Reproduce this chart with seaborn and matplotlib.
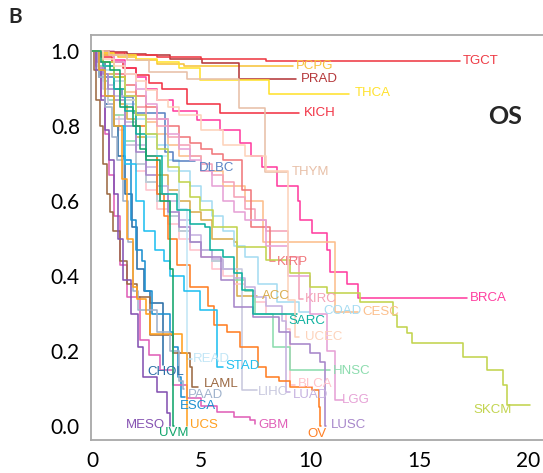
import matplotlib
matplotlib.use("Agg")
import matplotlib.pyplot as plt
import pandas as pd
import seaborn as sns

# ---------------- data (years, survival probability) ----------------
acc_t = [0, 0.3, 0.6, 1, 1.3, 1.6, 2, 2.5, 3, 3.5, 4, 4.5, 5, 5.5, 6.5, 6.65, 7.55]
acc_s = [1, 0.97, 0.94, 0.9, 0.86, 0.82, 0.77, 0.72, 0.67, 0.63, 0.6, 0.57, 0.55, 0.5, 0.49, 0.347, 0.347]
blca_t = [0, 0.25, 0.5, 0.75, 1, 1.25, 1.5, 2, 2.5, 3, 3.5, 4, 4.5, 5, 5.5, 6, 6.5, 7, 7.5, 8, 8.9, 9.1, 9.3]
blca_s = [1, 0.97, 0.93, 0.88, 0.83, 0.79, 0.75, 0.68, 0.63, 0.58, 0.54, 0.5, 0.47, 0.45, 0.42, 0.4, 0.38, 0.36, 0.33, 0.3, 0.26, 0.11, 0.11]
brca_t = [0, 0.5, 1, 1.5, 2, 2.5, 3, 3.7, 4.8, 5.87, 6.8, 7.3, 7.8, 8.5, 9.45, 9.55, 10.1, 10.8, 10.9, 11.7, 12.2, 17.2]
brca_s = [1, 0.99, 0.975, 0.955, 0.93, 0.9, 0.87, 0.84, 0.816, 0.79, 0.755, 0.72, 0.69, 0.64, 0.6, 0.55, 0.515, 0.47, 0.41, 0.38, 0.341, 0.341]
cesc_t = [0, 0.5, 1, 1.5, 2, 2.5, 3, 3.5, 4, 5, 6, 7, 7.85, 11.15, 12.2]
cesc_s = [1, 0.97, 0.93, 0.89, 0.85, 0.81, 0.78, 0.75, 0.72, 0.68, 0.64, 0.6, 0.49, 0.304, 0.304]
chol_t = [0, 0.3, 0.6, 1.0, 1.2, 1.5, 1.83, 2.06, 2.4, 2.66, 3.26, 3.28]
chol_s = [1, 0.93, 0.86, 0.8, 0.72, 0.62, 0.53, 0.42, 0.36, 0.328, 0.163, 0.163]
coad_t = [0, 0.5, 1, 1.5, 2, 2.5, 3, 3.5, 4, 4.5, 5, 5.5, 6, 6.5, 7, 7.6, 8.5, 9.5, 10.0]
coad_s = [1, 0.95, 0.9, 0.86, 0.82, 0.78, 0.75, 0.71, 0.68, 0.64, 0.6, 0.56, 0.52, 0.48, 0.45, 0.38, 0.33, 0.304, 0.304]
dlbc_t = [0, 0.3, 0.6, 1.0, 1.38, 1.9, 3.35, 3.7, 4.72]
dlbc_s = [1, 0.97, 0.93, 0.9, 0.877, 0.835, 0.73, 0.707, 0.707]
esca_t = [0, 0.3, 0.6, 1.0, 1.45, 1.8, 2.0, 2.3, 2.43, 2.75, 3.58, 3.72, 3.94, 4.1, 4.25]
esca_s = [1, 0.94, 0.88, 0.8, 0.71, 0.55, 0.47, 0.44, 0.36, 0.3, 0.25, 0.21, 0.13, 0.077, 0.077]
gbm_t = [0, 0.2, 0.4, 0.6, 0.8, 1.0, 1.28, 1.6, 2.2, 2.6, 3.1, 3.7, 4.36, 5.0, 5.73, 6.5, 7.25, 7.5]
gbm_s = [1, 0.96, 0.88, 0.78, 0.67, 0.56, 0.43, 0.344, 0.23, 0.19, 0.15, 0.11, 0.075, 0.055, 0.037, 0.025, 0.016, 0.005]
hnsc_t = [0, 0.25, 0.5, 0.75, 1, 1.5, 2, 2.5, 3, 3.6, 4, 4.5, 5, 5.5, 6, 6.5, 7, 7.5, 8.3, 9.1, 10.9]
hnsc_s = [1, 0.96, 0.92, 0.87, 0.83, 0.76, 0.7, 0.65, 0.6, 0.56, 0.52, 0.49, 0.47, 0.44, 0.42, 0.39, 0.36, 0.3, 0.21, 0.15, 0.15]
kich_t = [0, 0.4, 0.9, 1.4, 2.0, 2.6, 3.2, 4.36, 5.87, 9.5]
kich_s = [1, 0.985, 0.97, 0.955, 0.935, 0.915, 0.9, 0.86, 0.835, 0.835]
kirc_t = [0, 0.5, 1, 1.5, 2, 2.5, 3, 3.5, 4, 4.5, 5, 5.5, 6, 6.5, 7, 7.5, 8, 9, 9.5, 9.7]
kirc_s = [1, 0.96, 0.92, 0.88, 0.85, 0.82, 0.8, 0.77, 0.75, 0.72, 0.7, 0.67, 0.65, 0.61, 0.58, 0.55, 0.52, 0.45, 0.34, 0.34]
kirp_t = [0, 0.5, 1, 1.5, 2, 2.5, 3, 3.5, 4, 4.5, 5, 5.5, 6, 6.9, 7.3, 8.15, 8.4]
kirp_s = [1, 0.97, 0.94, 0.91, 0.88, 0.85, 0.82, 0.8, 0.77, 0.755, 0.74, 0.725, 0.71, 0.63, 0.53, 0.44, 0.44]
laml_t = [0, 0.1, 0.2, 0.35, 0.5, 0.7, 0.83, 0.97, 1.3, 1.6, 2.06, 2.66, 3.72, 4.5, 4.6, 4.85]
laml_s = [1, 0.95, 0.87, 0.8, 0.7, 0.62, 0.57, 0.52, 0.44, 0.38, 0.344, 0.243, 0.195, 0.157, 0.104, 0.104]
lgg_t = [0, 1, 1.5, 2, 2.5, 3, 3.5, 4, 4.5, 5, 5.5, 6, 6.5, 7, 8, 9, 10, 10.8, 11.15, 11.5]
lgg_s = [1, 0.97, 0.94, 0.9, 0.86, 0.82, 0.78, 0.74, 0.71, 0.68, 0.64, 0.6, 0.57, 0.55, 0.48, 0.4, 0.3, 0.2, 0.07, 0.07]
lihc_t = [0, 0.25, 0.5, 0.75, 1, 1.5, 2, 2.5, 3, 3.5, 4, 4.5, 5, 5.5, 6, 6.9, 7.55]
lihc_s = [1, 0.95, 0.9, 0.86, 0.82, 0.75, 0.7, 0.65, 0.6, 0.56, 0.52, 0.49, 0.47, 0.44, 0.42, 0.096, 0.096]
luad_t = [0, 0.25, 0.5, 0.75, 1, 1.5, 2, 2.5, 3, 3.5, 4, 4.5, 5, 5.5, 6, 6.5, 7, 7.5, 8, 8.7, 8.9, 9.1]
luad_s = [1, 0.97, 0.94, 0.91, 0.88, 0.81, 0.75, 0.69, 0.64, 0.6, 0.55, 0.51, 0.47, 0.445, 0.42, 0.395, 0.37, 0.345, 0.32, 0.28, 0.09, 0.09]
lusc_t = [0, 0.25, 0.5, 0.75, 1, 1.5, 2, 2.5, 3, 3.5, 4, 4.5, 5, 5.9, 6.5, 7.4, 8.6, 9.1, 10, 10.45, 10.7, 10.75]
lusc_s = [1, 0.97, 0.94, 0.9, 0.87, 0.8, 0.73, 0.67, 0.62, 0.57, 0.53, 0.49, 0.45, 0.39, 0.317, 0.29, 0.25, 0.22, 0.195, 0.17, 0.0, 0.0]
meso_t = [0, 0.2, 0.4, 0.6, 0.8, 1.0, 1.2, 1.42, 1.8, 2.1, 2.34, 2.98, 3.44, 3.58, 3.6]
meso_s = [1, 0.95, 0.87, 0.79, 0.71, 0.62, 0.5, 0.39, 0.3, 0.21, 0.13, 0.09, 0.035, 0.0, 0.0]
ov_t = [0, 0.5, 1, 1.5, 2, 2.5, 3, 3.3, 3.5, 3.9, 4.5, 5.3, 5.6, 6.2, 6.8, 7.6, 8.0, 8.6, 9.1, 10.1, 10.4, 10.45, 10.5]
ov_s = [1, 0.97, 0.93, 0.87, 0.8, 0.72, 0.62, 0.56, 0.5, 0.43, 0.37, 0.32, 0.27, 0.25, 0.21, 0.157, 0.13, 0.12, 0.104, 0.096, 0.05, 0.0, 0.0]
paad_t = [0, 0.3, 0.6, 0.9, 1.15, 1.4, 1.65, 1.9, 2.1, 2.98, 3.58, 4.0, 4.17, 4.2]
paad_s = [1, 0.93, 0.85, 0.77, 0.71, 0.6, 0.49, 0.36, 0.31, 0.25, 0.2, 0.12, 0.1, 0.1]
pcpg_t = [0, 0.5, 1.2, 2, 3, 4.2, 9.2]
pcpg_s = [1, 0.99, 0.985, 0.975, 0.965, 0.96, 0.96]
prad_t = [0, 0.8, 1.6, 2.5, 3.6, 5.05, 6.75, 9.35]
prad_s = [1, 0.997, 0.993, 0.99, 0.98, 0.968, 0.925, 0.925]
read_t = [0, 0.5, 1, 1.5, 2, 2.5, 3, 3.5, 4, 4.36, 4.6]
read_s = [1, 0.96, 0.92, 0.87, 0.82, 0.77, 0.72, 0.68, 0.58, 0.18, 0.18]
sarc_t = [0, 0.5, 1, 1.5, 2, 2.5, 3.2, 3.9, 4.5, 5.2, 5.4, 6.0, 6.5, 6.9, 7.4, 9.4]
sarc_s = [1, 0.96, 0.9, 0.84, 0.78, 0.72, 0.62, 0.576, 0.54, 0.53, 0.47, 0.45, 0.408, 0.363, 0.30, 0.30]
skcm_t = [0, 0.5, 1, 1.5, 2, 2.5, 3, 3.5, 4, 4.5, 4.95, 5.55, 6.65, 8.0, 9.1, 10.0, 10.8, 12.3, 13.8, 14.0, 14.45, 14.7, 17.0, 18.1, 18.85, 19.04, 20.1]
skcm_s = [1, 0.97, 0.93, 0.88, 0.83, 0.78, 0.74, 0.69, 0.65, 0.61, 0.576, 0.53, 0.477, 0.443, 0.408, 0.37, 0.355, 0.331, 0.296, 0.264, 0.248, 0.221, 0.184, 0.149, 0.109, 0.056, 0.056]
stad_t = [0, 0.3, 0.6, 1.0, 1.5, 2.0, 2.4, 2.9, 3.3, 3.6, 4.2, 4.95, 5.73, 6.0]
stad_s = [1, 0.95, 0.88, 0.8, 0.7, 0.6, 0.52, 0.47, 0.44, 0.4, 0.36, 0.31, 0.157, 0.157]
tgct_t = [0, 0.5, 1.5, 3, 5, 8, 16.9]
tgct_s = [1, 0.995, 0.99, 0.985, 0.98, 0.973, 0.973]
thca_t = [0, 0.5, 1, 2, 3, 4, 4.95, 8.1, 11.8]
thca_s = [1, 0.995, 0.99, 0.98, 0.97, 0.955, 0.923, 0.885, 0.885]
thym_t = [0, 0.8, 1.6, 2.6, 4.36, 6.74, 7.94, 8.95]
thym_s = [1, 0.99, 0.975, 0.944, 0.925, 0.848, 0.677, 0.677]
ucec_t = [0, 0.5, 1, 1.5, 2, 2.5, 3, 3.5, 4, 5, 6, 7, 8, 9.0, 9.3, 9.5]
ucec_s = [1, 0.98, 0.96, 0.94, 0.92, 0.895, 0.87, 0.85, 0.83, 0.79, 0.75, 0.72, 0.68, 0.336, 0.237, 0.237]
ucs_t = [0, 0.3, 0.6, 1.0, 1.38, 1.6, 1.9, 2.06, 2.5, 2.66, 4.13, 4.36, 4.38]
ucs_s = [1, 0.95, 0.88, 0.8, 0.66, 0.5, 0.37, 0.34, 0.3, 0.245, 0.195, 0.0, 0.0]
uvm_t = [0, 0.4, 0.83, 1.3, 1.88, 2.2, 2.5, 3.1, 3.58, 3.72, 3.74]
uvm_s = [1, 0.97, 0.95, 0.85, 0.8, 0.74, 0.71, 0.6, 0.42, 0.0, 0.0]

curves = {
    "ACC": (acc_t, acc_s), "BLCA": (blca_t, blca_s), "BRCA": (brca_t, brca_s),
    "CESC": (cesc_t, cesc_s), "CHOL": (chol_t, chol_s), "COAD": (coad_t, coad_s),
    "DLBC": (dlbc_t, dlbc_s), "ESCA": (esca_t, esca_s), "GBM": (gbm_t, gbm_s),
    "HNSC": (hnsc_t, hnsc_s), "KICH": (kich_t, kich_s), "KIRC": (kirc_t, kirc_s),
    "KIRP": (kirp_t, kirp_s), "LAML": (laml_t, laml_s), "LGG": (lgg_t, lgg_s),
    "LIHC": (lihc_t, lihc_s), "LUAD": (luad_t, luad_s), "LUSC": (lusc_t, lusc_s),
    "MESO": (meso_t, meso_s), "OV": (ov_t, ov_s), "PAAD": (paad_t, paad_s),
    "PCPG": (pcpg_t, pcpg_s), "PRAD": (prad_t, prad_s), "READ": (read_t, read_s),
    "SARC": (sarc_t, sarc_s), "SKCM": (skcm_t, skcm_s), "STAD": (stad_t, stad_s),
    "TGCT": (tgct_t, tgct_s), "THCA": (thca_t, thca_s), "THYM": (thym_t, thym_s),
    "UCEC": (ucec_t, ucec_s), "UCS": (ucs_t, ucs_s), "UVM": (uvm_t, uvm_s),
}

# ---------------- styles ----------------
colors = {
    "ACC": "#d9ad4f", "BLCA": "#ffc2cb", "BRCA": "#ff3fa0", "CESC": "#fcbf8c",
    "CHOL": "#2b6ea6", "COAD": "#a6dcf2", "DLBC": "#5b84c4", "ESCA": "#1e90d0",
    "GBM": "#e060b8", "HNSC": "#8cdcae", "KICH": "#f23345", "KIRC": "#f4a3b8",
    "KIRP": "#f0787c", "LAML": "#9c6a44", "LGG": "#e6a2d6", "LIHC": "#c8c8de",
    "LUAD": "#c6b2e0", "LUSC": "#a786ca", "MESO": "#8552b2", "OV": "#ff7f24",
    "PAAD": "#9fb2cc", "PCPG": "#f7c33b", "PRAD": "#b5383b", "READ": "#c2e6f6",
    "SARC": "#10b2a0", "SKCM": "#c2d44e", "STAD": "#22c0f0", "TGCT": "#ee3a44",
    "THCA": "#ffe22e", "THYM": "#e8c0a8", "UCEC": "#fdd3bb", "UCS": "#ffa020",
    "UVM": "#12a56c",
}
label_pos = {
    "TGCT": (17.0, 0.973), "PCPG": (9.36, 0.96), "PRAD": (9.59, 0.925),
    "THCA": (12.06, 0.888), "KICH": (9.72, 0.835), "DLBC": (4.9, 0.688),
    "THYM": (9.17, 0.677), "KIRP": (8.49, 0.437), "ACC": (7.8, 0.347),
    "BRCA": (17.34, 0.341), "KIRC": (9.77, 0.339), "COAD": (10.6, 0.307),
    "CESC": (12.39, 0.304), "SARC": (8.99, 0.28), "UCEC": (9.77, 0.237),
    "STAD": (6.1, 0.16), "HNSC": (11.05, 0.147), "READ": (4.63, 0.179),
    "CHOL": (2.52, 0.144), "BLCA": (9.45, 0.112), "LAML": (5.15, 0.113),
    "LIHC": (7.61, 0.091), "PAAD": (4.4, 0.083), "LUAD": (9.22, 0.083),
    "LGG": (11.47, 0.069), "ESCA": (4.04, 0.053), "SKCM": (17.5, 0.043),
    "MESO": (1.56, 0.003), "GBM": (7.61, 0.003), "LUSC": (10.96, 0.003),
    "UCS": (4.5, 0.003), "OV": (9.9, -0.021), "UVM": (3.07, -0.019),
}

rows = []
for name, (ts, ss) in curves.items():
    for t, s in zip(ts, ss):
        rows.append({"cancer": name, "time": t, "surv": s})
df = pd.DataFrame(rows)

sns.set_style("white")
fig = plt.figure(figsize=(5.43, 4.73), dpi=100)
ax = fig.add_axes([91 / 543, 33 / 473, (543 - 91) / 543, (440 - 35) / 473])

sns.lineplot(data=df, x="time", y="surv", hue="cancer", palette=colors,
             estimator=None, sort=False, drawstyle="steps-post",
             linewidth=1.15, legend=False, ax=ax)

for name, (x, y) in label_pos.items():
    ax.text(x, y, name, color=colors[name], fontsize=9.5,
            family=["Liberation Sans", "DejaVu Sans"], ha="left", va="center")

ax.set_xlim(-0.046, 20.69)
ax.set_ylim(-0.037, 1.043)
ax.set_xticks([0, 5, 10, 15, 20])
ax.set_yticks([0, 0.2, 0.4, 0.6, 0.8, 1.0])
ax.set_yticklabels(["0.0", "0.2", "0.4", "0.6", "0.8", "1.0"])
ax.set_xlabel("")
ax.set_ylabel("")
for sp in ["left", "bottom", "top"]:
    ax.spines[sp].set_color("#a8a8a8")
    ax.spines[sp].set_linewidth(1.3)
ax.spines["right"].set_visible(False)
ax.tick_params(axis="both", direction="out", length=5, width=1.1, color="#a8a8a8",
               labelsize=15, labelcolor="black", pad=3)
for lab in ax.get_xticklabels() + ax.get_yticklabels():
    lab.set_family(["Lato", "DejaVu Sans"])

ax.text(0.915, 0.8, "OS", transform=ax.transAxes, fontsize=18, fontweight="bold",
        family=["Lato", "DejaVu Sans"], ha="center", va="center")
fig.text(8 / 543, 1 - 17 / 473, "B", fontsize=15, fontweight="bold",
         family=["Lato", "DejaVu Sans"], ha="left", va="center")

fig.savefig("out.png", dpi=100)
